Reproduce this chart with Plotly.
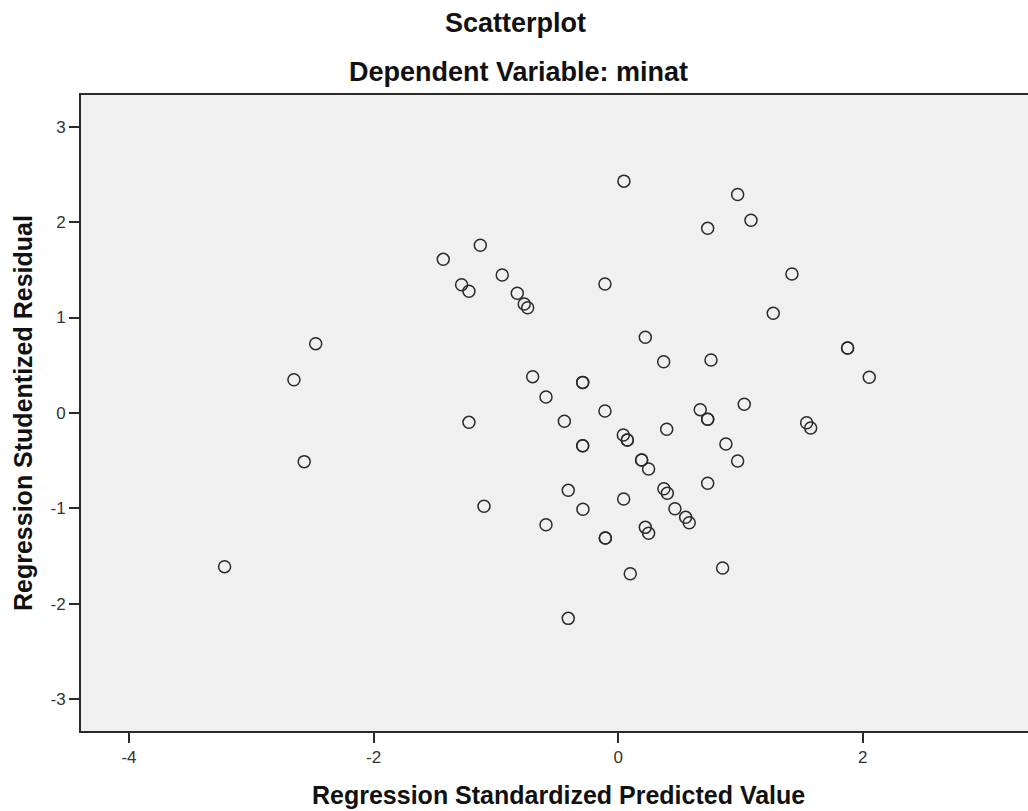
import plotly.graph_objects as go

# Regression Standardized Predicted Value (x) and Studentized Residual (y)
pred_value = [
    0.047, 0.977, 1.086, 0.732, -1.127, -1.43, -0.948, -1.28, -1.22, -0.108,
    1.421, -0.825, -0.768, -0.74, 1.268, 0.222, 0.372, 0.759, -0.699, -0.29,
    -0.29, -0.59, -0.108, 0.671, 0.732, 0.732, 1.031, -1.22, -0.44, 1.541,
    1.574, 0.397, 0.042, 0.075, 0.075, -0.29, -0.29, 0.881, 0.192, 0.192,
    0.249, 0.977, 0.732, -0.408, 0.374, 0.402, 0.045, -1.097, -0.288, 0.464,
    0.552, 0.581, -0.59, 0.222, 0.249, -0.105, -0.105, 0.854, 0.099, -0.408,
    -2.473, -2.651, -2.567, -3.218, 1.876, 1.876, 2.053,
]
stud_residual = [
    2.43, 2.29, 2.02, 1.935, 1.757, 1.61, 1.446, 1.344, 1.275, 1.351,
    1.456, 1.254, 1.142, 1.103, 1.044, 0.793, 0.537, 0.555, 0.38, 0.32,
    0.32, 0.167, 0.02, 0.034, -0.067, -0.067, 0.09, -0.099, -0.088, -0.103,
    -0.158, -0.172, -0.232, -0.284, -0.284, -0.344, -0.344, -0.326, -0.494, -0.494,
    -0.588, -0.504, -0.738, -0.812, -0.795, -0.843, -0.903, -0.979, -1.011, -1.004,
    -1.095, -1.151, -1.172, -1.2, -1.262, -1.312, -1.312, -1.626, -1.686, -2.154,
    0.726, 0.348, -0.511, -1.612, 0.68, 0.68, 0.373,
]

x_ticks = [-4, -2, 0, 2]
y_ticks = [-3, -2, -1, 0, 1, 2, 3]
x_ticktext = ["-4", "-2", "0", "2"]
y_ticktext = ["-3", "-2", "-1", "0", "1", "2", "3"]

title_main = "Scatterplot"
title_sub = "Dependent Variable: minat"
x_title = "Regression Standardized Predicted Value"
y_title = "Regression Studentized Residual"

FONT = "Liberation Sans, Arial, sans-serif"

# plot area in pixels: left 81, right 1028, top 95, bottom 731
PL, PR, PT, PB = 81, 1028, 95, 731
PW, PH = PR - PL, PB - PT


def px_x(px):
    return (px - PL) / PW


def px_y(py):
    return (PB - py) / PH


fig = go.Figure()
fig.add_trace(go.Scatter(
    x=pred_value, y=stud_residual, mode="markers",
    marker=dict(symbol="circle-open", size=12,
                line=dict(color="#2a2a2a", width=1.5), color="#2a2a2a"),
    showlegend=False, hoverinfo="x+y",
))

fig.update_layout(
    width=1028, height=811,
    margin=dict(l=PL, r=1028 - PR, t=PT, b=811 - PB),
    paper_bgcolor="white", plot_bgcolor="#F0F0F0",
    font=dict(family=FONT, color="#333333"),
    xaxis=dict(range=[-4.392, 3.351], tickvals=x_ticks, ticktext=x_ticktext,
               showgrid=False, zeroline=False,
               showline=True, linecolor="#2a2a2a", linewidth=2, mirror=True,
               ticks="outside", ticklen=10, tickwidth=2, tickcolor="#2a2a2a",
               tickfont=dict(size=17, color="#333333", family=FONT)),
    yaxis=dict(range=[-3.335, 3.333], tickvals=y_ticks, ticktext=y_ticktext,
               showgrid=False, zeroline=False,
               showline=True, linecolor="#2a2a2a", linewidth=2, mirror=False,
               ticks="outside", ticklen=10, tickwidth=2, tickcolor="#2a2a2a",
               tickfont=dict(size=17, color="#333333", family=FONT)),
    annotations=[
        dict(text="<b>%s</b>" % title_main, xref="paper", yref="paper", x=px_x(515),
             y=px_y(23), yanchor="middle", xanchor="center", showarrow=False,
             font=dict(size=27, color="#111111", family=FONT)),
        dict(text="<b>%s</b>" % title_sub, xref="paper", yref="paper", x=px_x(518),
             y=px_y(72), yanchor="middle", xanchor="center",
             showarrow=False, font=dict(size=27, color="#111111", family=FONT)),
        dict(text="<b>%s</b>" % x_title, xref="paper", yref="paper", x=px_x(558),
             y=px_y(795), yanchor="middle", xanchor="center", showarrow=False,
             font=dict(size=25, color="#111111", family=FONT)),
        dict(text="<b>%s</b>" % y_title, xref="paper", yref="paper", x=px_x(23),
             y=px_y(413), xanchor="center", yanchor="middle", textangle=-90, showarrow=False,
             font=dict(size=25, color="#111111", family=FONT)),
    ],
)

fig.write_html("out.html", config={"displayModeBar": False},
               post_script="document.body.style.margin='0';")
